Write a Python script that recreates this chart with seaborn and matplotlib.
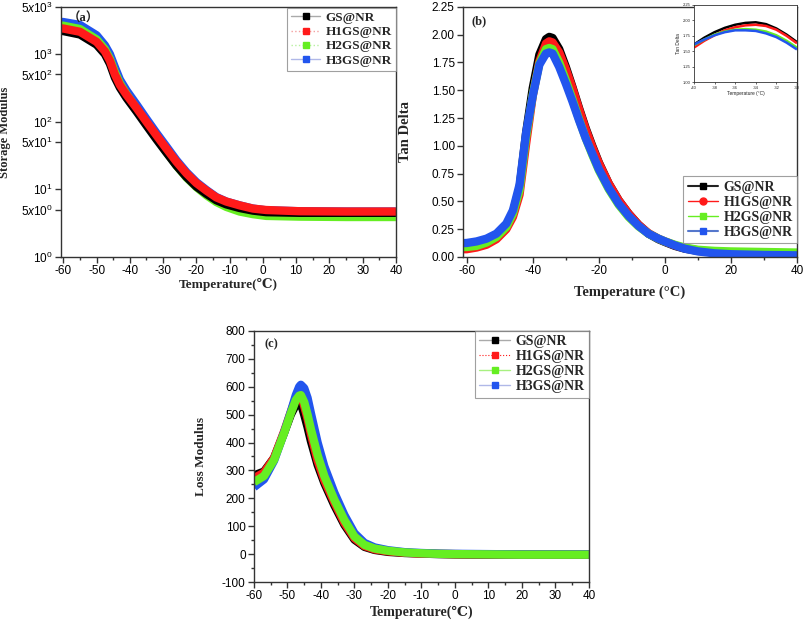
import numpy as np
import pandas as pd
import seaborn as sns
import matplotlib.pyplot as plt
from matplotlib.lines import Line2D
from matplotlib.ticker import MultipleLocator, NullLocator, FixedLocator, FixedFormatter

##################################### Data #####################################

series_names = ["GS@NR", "H1GS@NR", "H2GS@NR", "H3GS@NR"]
series_colors = ["#000000", "#ff1a1a", "#66ee22", "#2255ee"]

# (a) Storage modulus (log scale)
temp_a = [-61, -60, -55, -50, -47.5, -46, -44.5, -43, -41, -38, -35, -32, -29, -26, -23,
          -20, -17, -14, -11, -7, -3, 1, 11, 25, 40]
storage_gs = [2200, 2190, 1950, 1380, 1000, 720, 450, 320, 225, 142, 88, 55, 35, 22.5, 15.3,
              11.0, 8.6, 6.9, 6.0, 5.3, 4.85, 4.6, 4.5, 4.5, 4.5]
storage_h1 = [2400, 2390, 2140, 1520, 1100, 800, 500, 350, 250, 160, 100, 63, 40, 25.7, 17.3,
              12.4, 9.6, 7.6, 6.6, 5.8, 5.2, 4.95, 4.75, 4.7, 4.7]
storage_h2 = [2650, 2630, 2350, 1650, 1180, 850, 540, 370, 255, 155, 95, 58, 36, 22.5, 15.0,
              10.8, 8.2, 6.5, 5.5, 4.7, 4.3, 4.05, 3.95, 3.9, 3.9]
storage_h3 = [3000, 2980, 2700, 1900, 1350, 1000, 640, 420, 290, 180, 110, 68, 43, 27, 18,
              12.8, 9.8, 7.7, 6.6, 5.8, 5.2, 4.9, 4.75, 4.7, 4.7]

# (b) Tan delta
temp_b = [-61, -60, -57, -54, -51, -48, -46, -44, -42, -40, -38, -36, -35, -34, -32, -30, -28,
          -26, -24, -22, -20, -17, -14, -11, -8, -5, -2, 0, 3, 6, 10, 15, 20, 30, 40]
tan_gs = [0.10, 0.10, 0.115, 0.14, 0.185, 0.28, 0.40, 0.62, 1.12, 1.52, 1.82, 1.96, 1.98, 1.97,
          1.87, 1.71, 1.53, 1.34, 1.16, 1.00, 0.85, 0.66, 0.51, 0.39, 0.29, 0.21, 0.16, 0.135,
          0.10, 0.075, 0.055, 0.04, 0.03, 0.022, 0.02]
tan_h1 = [0.07, 0.07, 0.085, 0.11, 0.16, 0.25, 0.36, 0.56, 1.02, 1.45, 1.76, 1.92, 1.94, 1.93,
          1.84, 1.69, 1.52, 1.33, 1.15, 0.99, 0.845, 0.66, 0.51, 0.39, 0.29, 0.215, 0.165, 0.14,
          0.105, 0.08, 0.06, 0.045, 0.035, 0.025, 0.02]
tan_h2 = [0.09, 0.09, 0.10, 0.13, 0.18, 0.27, 0.39, 0.60, 1.08, 1.46, 1.74, 1.87, 1.88, 1.87,
          1.75, 1.59, 1.42, 1.24, 1.07, 0.92, 0.78, 0.61, 0.47, 0.36, 0.275, 0.21, 0.165, 0.14,
          0.11, 0.085, 0.065, 0.055, 0.05, 0.045, 0.04]
tan_h3 = [0.125, 0.126, 0.14, 0.165, 0.21, 0.30, 0.42, 0.65, 1.12, 1.45, 1.73, 1.83, 1.84, 1.83,
          1.71, 1.56, 1.40, 1.23, 1.07, 0.93, 0.79, 0.62, 0.48, 0.37, 0.28, 0.21, 0.165, 0.14,
          0.105, 0.075, 0.05, 0.033, 0.025, 0.018, 0.015]

# (b) inset, zoom on the peak
temp_inset = [-40, -39, -38, -37, -36, -35, -34, -33, -32, -31, -30]
inset_gs = [1.61, 1.72, 1.81, 1.88, 1.93, 1.96, 1.97, 1.94, 1.87, 1.77, 1.65]
inset_h1 = [1.56, 1.67, 1.76, 1.84, 1.89, 1.92, 1.93, 1.91, 1.85, 1.75, 1.63]
inset_h2 = [1.60, 1.69, 1.77, 1.82, 1.85, 1.86, 1.85, 1.82, 1.76, 1.67, 1.56]
inset_h3 = [1.61, 1.69, 1.76, 1.81, 1.84, 1.84, 1.83, 1.79, 1.73, 1.64, 1.53]

# (c) Loss modulus
temp_c = [-60, -57, -54, -51, -49, -47.5, -46.5, -46, -45, -44, -43, -41, -39, -36, -33, -30,
          -27, -24, -20, -15, -10, -5, 0, 10, 20, 30, 40]
loss_gs = [282, 296, 345, 435, 500, 535, 545, 540, 500, 455, 405, 320, 255, 175, 105, 52,
           26, 15, 8, 4, 2, 0, -1, -2, -2, -2, -2]
loss_h1 = [272, 292, 345, 440, 510, 560, 575, 572, 530, 485, 430, 335, 265, 185, 112, 57,
           29, 17, 10, 5, 2, 1, 0, -1, -2, -2, -2]
loss_h2 = [258, 280, 338, 434, 505, 552, 568, 570, 545, 500, 448, 355, 280, 195, 122, 63,
           33, 20, 12, 6, 3, 1, 0, -1, -2, -2, -2]
loss_h3 = [240, 268, 335, 436, 510, 570, 600, 607, 595, 560, 505, 400, 315, 220, 140, 75,
           40, 24, 14, 7, 4, 2, 1, 0, -1, -1, -1]

##################################### Style #####################################

sns.set_theme(style="ticks")
plt.rcParams["font.family"] = ["Liberation Sans", "DejaVu Sans"]
plt.rcParams["mathtext.fontset"] = "custom"
plt.rcParams["mathtext.rm"] = "Liberation Sans"
plt.rcParams["mathtext.it"] = "Liberation Sans:italic"
plt.rcParams["axes.unicode_minus"] = False
plt.rcParams["axes.edgecolor"] = "#333333"
plt.rcParams["axes.linewidth"] = 1.0
plt.rcParams["xtick.direction"] = "out"
plt.rcParams["ytick.direction"] = "out"

serif_bold = dict(family=["Liberation Serif", "DejaVu Serif", "DejaVu Sans"], weight="bold")
tick_size = 8.5
band_width = 6.0

fig = plt.figure(figsize=(8.05, 6.23), dpi=100)
ax_a = fig.add_axes([0.0758, 0.5875, 0.416, 0.4015])
ax_b = fig.add_axes([0.5752, 0.5875, 0.415, 0.4015])
ax_c = fig.add_axes([0.3155, 0.0658, 0.416, 0.403])
ax_in = fig.add_axes([0.862, 0.868, 0.128, 0.124])


def draw_band(ax, temp, values, color, lw=band_width):
    sns.lineplot(x=temp, y=values, ax=ax, color=color, lw=lw, legend=False,
                 solid_capstyle="butt", estimator=None, sort=False)


def style_axes(ax):
    for side in ["top", "right", "left", "bottom"]:
        ax.spines[side].set_visible(True)
    ax.tick_params(which="major", length=4, width=1, labelsize=tick_size, colors="#333333",
                   labelcolor="black", pad=2)
    ax.tick_params(which="minor", length=2.5, width=1, colors="#333333")


def add_legend(ax, handles, loc, anchor, size):
    leg = ax.legend(handles=handles, loc=loc, bbox_to_anchor=anchor, borderaxespad=0,
                    frameon=True, fancybox=False, edgecolor="#888888",
                    prop=dict(size=size, **serif_bold), handlelength=2.2,
                    handletextpad=0.4, labelspacing=0.15, borderpad=0.3)
    leg.get_frame().set_linewidth(0.8)
    return leg


##################################### (a) Storage modulus #####################################

storage = [storage_gs, storage_h1, storage_h2, storage_h3]
for i in [3, 2, 0, 1]:
    draw_band(ax_a, temp_a, storage[i], series_colors[i])

ax_a.set_yscale("log")
ax_a.set_xlim(-60.7, 40)
ax_a.set_ylim(1, 5000)
ax_a.yaxis.set_major_locator(FixedLocator([1, 5, 10, 50, 100, 500, 1000, 5000]))
ax_a.yaxis.set_major_formatter(FixedFormatter([r"$10^0$", r"$5x10^0$", r"$10^1$", r"$5x10^1$",
                                               r"$10^2$", r"$5x10^2$", r"$10^3$", r"$5x10^3$"]))
ax_a.yaxis.set_minor_locator(NullLocator())
ax_a.xaxis.set_major_locator(MultipleLocator(10))
ax_a.xaxis.set_minor_locator(MultipleLocator(5))
style_axes(ax_a)
ax_a.set_xlabel("Temperature(℃)", fontsize=9.5, **serif_bold)
ax_a.set_ylabel("Storage Modulus", fontsize=9, **serif_bold)
ax_a.xaxis.set_label_coords(0.5, -0.085)
ax_a.yaxis.set_label_coords(-0.15, 0.5)
ax_a.text(0.02, 0.975, "（a）", transform=ax_a.transAxes, ha="left", va="top", fontsize=9,
          family=["Liberation Serif", "Noto Sans CJK SC"], weight="bold")

handles_a = [
    Line2D([], [], color="#aaaaaa", lw=1, marker="s", mfc="black", mec="black", ms=5),
    Line2D([], [], color="#f4a0a0", lw=1, ls=":", marker="s", mfc="#ff1a1a", mec="#ff1a1a", ms=5),
    Line2D([], [], color="#b8f0a0", lw=1, ls=":", marker="s", mfc="#66ee22", mec="#66ee22", ms=5),
    Line2D([], [], color="#b0b8e8", lw=1, marker="s", mfc="#2255ee", mec="#2255ee", ms=5),
]
for h, name in zip(handles_a, series_names):
    h.set_label(name)
add_legend(ax_a, handles_a, "upper right", (1.0, 0.996), 9.5)

##################################### (b) Tan delta #####################################

tan = [tan_gs, tan_h1, tan_h2, tan_h3]
for i in [0, 1, 2, 3]:
    draw_band(ax_b, temp_b, tan[i], series_colors[i])

ax_b.set_xlim(-61.1, 40)
ax_b.set_ylim(0, 2.25)
ax_b.xaxis.set_major_locator(MultipleLocator(20))
ax_b.xaxis.set_minor_locator(MultipleLocator(10))
ax_b.yaxis.set_major_locator(MultipleLocator(0.25))
ax_b.yaxis.set_major_formatter(plt.FormatStrFormatter("%.2f"))
style_axes(ax_b)
ax_b.set_xlabel("Temperature (°C)", fontsize=10.5, **serif_bold)
ax_b.set_ylabel("Tan Delta", fontsize=10.5, **serif_bold)
ax_b.xaxis.set_label_coords(0.5, -0.115)
ax_b.yaxis.set_label_coords(-0.153, 0.5)
ax_b.text(0.025, 0.965, "(b)", transform=ax_b.transAxes, ha="left", va="top", fontsize=9,
          **serif_bold)

handles_b = [
    Line2D([], [], color="#222222", lw=1.5, marker="s", mfc="black", mec="black", ms=5),
    Line2D([], [], color="#ff1a1a", lw=1, marker="o", mfc="#ff1a1a", mec="#ff1a1a", ms=5),
    Line2D([], [], color="#66ee22", lw=1, marker="s", mfc="#66ee22", mec="#66ee22", ms=5),
    Line2D([], [], color="#5577cc", lw=1.5, marker="s", mfc="#2255ee", mec="#2255ee", ms=5),
]
for h, name in zip(handles_b, series_names):
    h.set_label(name)
add_legend(ax_b, handles_b, "lower right", (1.0, 0.056), 10)

# inset
inset = [inset_gs, inset_h1, inset_h2, inset_h3]
for i in [0, 1, 2, 3]:
    draw_band(ax_in, temp_inset, inset[i], series_colors[i], lw=1.8)
ax_in.set_xlim(-40, -30)
ax_in.set_ylim(1.0, 2.25)
ax_in.xaxis.set_major_locator(MultipleLocator(2))
ax_in.yaxis.set_major_locator(MultipleLocator(0.25))
ax_in.yaxis.set_major_formatter(plt.FormatStrFormatter("%.2f"))
for side in ["top", "right", "left", "bottom"]:
    ax_in.spines[side].set_linewidth(0.6)
ax_in.tick_params(which="major", length=1.5, width=0.5, labelsize=3, pad=1)
ax_in.set_xlabel("Temperature (°C)", fontsize=3.5, labelpad=1)
ax_in.set_ylabel("Tan Delta", fontsize=3.5, labelpad=1)

##################################### (c) Loss modulus #####################################

loss = [loss_gs, loss_h1, loss_h2, loss_h3]
for i in [0, 1, 3, 2]:
    draw_band(ax_c, temp_c, loss[i], series_colors[i])

ax_c.set_xlim(-60, 40)
ax_c.set_ylim(-100, 800)
ax_c.xaxis.set_major_locator(MultipleLocator(10))
ax_c.xaxis.set_minor_locator(MultipleLocator(5))
ax_c.yaxis.set_major_locator(MultipleLocator(100))
ax_c.yaxis.set_minor_locator(MultipleLocator(50))
style_axes(ax_c)
ax_c.set_xlabel("Temperature(℃)", fontsize=10, **serif_bold)
ax_c.set_ylabel("Loss Modulus", fontsize=9.5, **serif_bold)
ax_c.xaxis.set_label_coords(0.5, -0.095)
ax_c.yaxis.set_label_coords(-0.14, 0.5)
ax_c.text(0.03, 0.97, "(c)", transform=ax_c.transAxes, ha="left", va="top", fontsize=9,
          **serif_bold)

handles_c = [
    Line2D([], [], color="#aaaaaa", lw=1, marker="s", mfc="black", mec="black", ms=5),
    Line2D([], [], color="#ff1a1a", lw=0.8, ls=":", marker="s", mfc="#ff1a1a", mec="#ff1a1a", ms=5),
    Line2D([], [], color="#a8f080", lw=1, marker="s", mfc="#66ee22", mec="#66ee22", ms=5),
    Line2D([], [], color="#b0b8e8", lw=1, marker="s", mfc="#2255ee", mec="#2255ee", ms=5),
]
for h, name in zip(handles_c, series_names):
    h.set_label(name)
add_legend(ax_c, handles_c, "upper right", (1.0, 1.0), 10)

plt.savefig("out.png", dpi=100)
